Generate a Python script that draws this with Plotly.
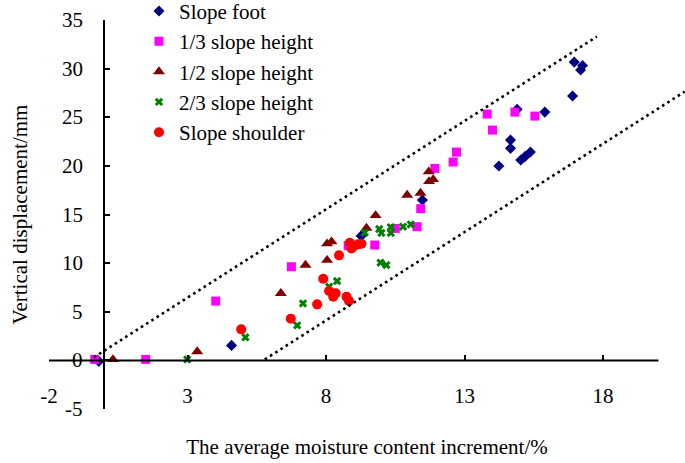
import plotly.graph_objects as go

# ---------------- data ----------------
foot_x = [-0.2, 4.59, 9.27, 11.48, 14.24, 14.66, 14.66, 14.9, 15.03, 15.18, 15.38, 15.9, 16.9, 16.96, 17.19, 17.26]
foot_y = [-0.1, 1.54, 12.8, 16.48, 19.98, 21.8, 22.65, 25.81, 20.6, 20.95, 21.42, 25.53, 27.18, 30.67, 29.85, 30.33]

third_x = [-0.35, 1.49, 4.02, 6.75, 8.8, 9.76, 10.5, 11.29, 11.42, 11.93, 12.59, 12.71, 13.82, 14.01, 14.82, 15.54]
third_y = [0.1, 0.1, 6.1, 9.63, 11.8, 11.86, 13.57, 13.75, 15.6, 19.74, 20.4, 21.42, 25.33, 23.68, 25.53, 25.12]

half_x = [0.31, 3.35, 6.37, 7.26, 8.04, 8.04, 8.2, 9.46, 9.79, 10.93, 11.41, 11.71, 11.72, 11.87]
half_y = [0.1, 0.9, 6.9, 9.8, 10.3, 12.0, 12.2, 13.6, 14.9, 17.0, 17.2, 19.4, 18.4, 18.6]

twothird_x = [2.99, 5.09, 6.96, 7.17, 8.11, 8.4, 9.4, 9.92, 10.0, 10.34, 10.34, 10.78, 11.06, 9.97, 10.18]
twothird_y = [0.1, 2.37, 3.6, 5.86, 7.58, 8.16, 13.13, 13.5, 13.1, 13.7, 13.1, 13.75, 13.98, 10.05, 9.8]

shoulder_x = [4.94, 6.73, 7.68, 7.9, 8.47, 8.11, 8.35, 8.26, 8.74, 8.83, 8.86, 9.0, 9.16, 8.92, 9.28]
shoulder_y = [3.19, 4.29, 5.76, 8.4, 10.8, 7.13, 6.89, 6.55, 6.55, 6.1, 12.1, 11.75, 11.93, 11.5, 12.0]

# envelope (dotted) lines
upper_x = [-0.38, 17.78]
upper_y = [0.31, 33.3]
lower_x = [5.79, 20.95]
lower_y = [0.1, 27.63]

x_ticks = [-2, 3, 8, 13, 18]
x_tick_labels = ["-2", "3", "8", "13", "18"]
y_ticks = [-5, 0, 5, 10, 15, 20, 25, 30, 35]
y_tick_labels = ["-5", "0", "5", "10", "15", "20", "25", "30", "35"]
x_axis_extent = [-2, 20]
x_range = [-2, 20.96]
y_range = [-5, 35]

series = [
    ("Slope foot", foot_x, foot_y, "diamond", "#000080", 8.5),
    ("1/3 slope height", third_x, third_y, "square", "#FF00FF", 9),
    ("1/2 slope height", half_x, half_y, "triangle-up", "#800000", 10.5),
    ("2/3 slope height", twothird_x, twothird_y, "x", "#008000", 7.5),
    ("Slope shoulder", shoulder_x, shoulder_y, "circle", "#FF0000", 10),
]

FONT = "Liberation Serif"
FS = 21

W, H = 685, 463
ML, MR, MT, MB = 49, 0, 20, 54

fig = go.Figure()
for name, xs, ys, sym, col, sz in series:
    fig.add_trace(go.Scatter(
        x=xs, y=ys, mode="markers", name=name,
        marker=dict(symbol=sym, color=col, size=sz, line=dict(width=0)),
    ))

for xs, ys in [(upper_x, upper_y), (lower_x, lower_y)]:
    fig.add_trace(go.Scatter(
        x=xs, y=ys, mode="lines", xaxis="x2", showlegend=False, hoverinfo="skip",
        line=dict(color="black", width=2.6, dash="2.6px,3.6px"),
    ))

# horizontal axis line at y = 0
fig.add_shape(type="line", xref="x", yref="y",
              x0=x_axis_extent[0], x1=x_axis_extent[1], y0=0, y1=0,
              line=dict(color="black", width=2), layer="above")

# y tick labels, placed on the y scale left of the vertical axis (x = 0)
for val, lab in zip(y_ticks, y_tick_labels):
    fig.add_annotation(x=0, y=val, xref="x", yref="y", text=lab, showarrow=False,
                       xanchor="right", yanchor="middle", xshift=-19,
                       font=dict(family=FONT, size=FS, color="black"))

y_pos = (0 - x_range[0]) / (x_range[1] - x_range[0])
x0_pos = (0 - y_range[0]) / (y_range[1] - y_range[0])

fig.update_layout(
    width=W, height=H,
    margin=dict(l=ML, r=MR, t=MT, b=MB, autoexpand=False),
    paper_bgcolor="white", plot_bgcolor="white",
    font=dict(family=FONT, size=FS, color="black"),
    showlegend=True,
    legend=dict(x=0.1415, y=1.075, xanchor="left", yanchor="top",
                bgcolor="rgba(0,0,0,0)", font=dict(family=FONT, size=FS),
                tracegroupgap=0),
    xaxis=dict(range=x_range, domain=[0, 1], anchor="free", position=0.072,
               automargin=False,
               showline=False, showgrid=False, zeroline=False,
               tickmode="array", tickvals=x_ticks, ticktext=x_tick_labels, ticks="",
               tickfont=dict(family=FONT, size=FS),
               title=dict(text="The average moisture content increment/%",
                          font=dict(family=FONT, size=FS), standoff=32)),
    xaxis2=dict(overlaying="x", matches="x", anchor="free", position=x0_pos,
                automargin=False,
                showline=False, showgrid=False, zeroline=False,
                tickmode="array", tickvals=x_ticks[1:], ticks="inside",
                ticklen=5, tickwidth=1.5, tickcolor="black",
                showticklabels=False),
    yaxis=dict(range=y_range, domain=[0, 1], anchor="free", position=y_pos,
               automargin=False,
               showline=True, linecolor="black", linewidth=2,
               showgrid=False, zeroline=False,
               tickmode="array", tickvals=y_ticks, ticks="inside",
               ticklen=5, tickwidth=1.5, tickcolor="black",
               showticklabels=False,
               title=dict(text="Vertical displacement/mm",
                          font=dict(family=FONT, size=FS), standoff=69)),
)

fig.write_html("out.html",
               config={"displayModeBar": False},
               post_script="document.body.style.margin='0px';document.body.style.overflow='hidden';")
